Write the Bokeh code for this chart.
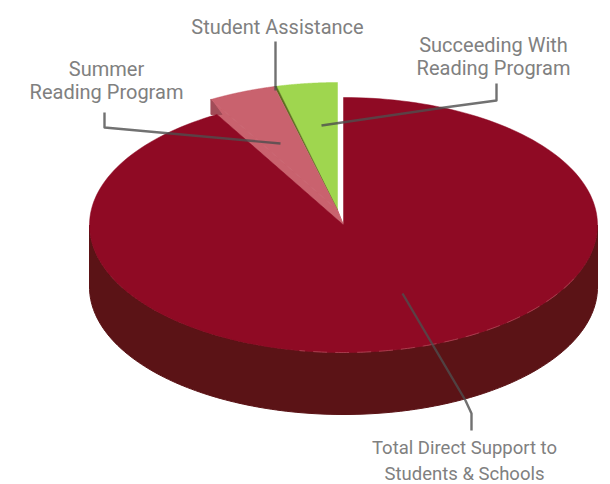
import numpy as np
from bokeh.plotting import figure
from bokeh.models import ColumnDataSource, Range1d
from bokeh.core.properties import value
from bokeh.embed import file_html
from bokeh.resources import INLINE

categories = ["Succeeding With Reading Program", "Student Assistance", "Summer Reading Program", "Total Direct Support to Students & Schools"]
shares = [3.86, 0.15, 4.29, 91.70]
exploded = [True, True, True, False]
colors = ["#9fd64f", "#5d6e1f", "#c9626e", "#8f0a24"]
side_color = "#5b1316"
label_lines = [["Succeeding With", "Reading Program"], ["Student Assistance"], ["Summer", "Reading Program"], ["Total Direct Support to", "Students & Schools"]]
label_pos = [(493, 44), (277, 26), (106, 68), (464, 447)]
label_gap = [23, 0, 23, 26]
label_size = ["20px", "20px", "20px", "18.5px"]
leaders = [
    ([496, 496, 444, 321], [83, 100, 107, 125]),
    ([275, 275], [41, 90]),
    ([104, 104, 280], [112, 127, 143]),
    ([402, 465, 471, 471], [293, 400, 413, 430]),
]

CX, CY, RX, RY = 343, 224.5, 254, 127.5
DEPTH = 62
OFF = (-6, -15)


def rim(a0, a1, n=80):
    t = np.radians(np.linspace(a0, a1, n))
    return CX + RX * np.sin(t), CY - RY * np.cos(t)


p = figure(width=610, height=484, output_backend="svg", toolbar_location=None,
           x_range=Range1d(0, 610), y_range=Range1d(484, 0), min_border=0)
p.axis.visible = False
p.grid.visible = False
p.outline_line_color = None
p.background_fill_color = "white"
p.border_fill_color = "white"

# Side wall of the main disc
sx, sy = rim(90, 270, 160)
p.patch(np.r_[sx, sx[::-1]], np.r_[sy + DEPTH, sy[::-1]], fill_color=side_color, line_color=side_color)

# Wedges, going anticlockwise from twelve o'clock
angles = -np.cumsum([0] + shares) * 3.6
xs, ys, fills = [], [], []
for i in range(len(shares)):
    x, y = rim(angles[i], angles[i + 1], 200)
    ox, oy = OFF if exploded[i] else (0, 0)
    xs.append(np.r_[CX + ox, x + ox, CX + ox])
    ys.append(np.r_[CY + oy, y + oy, CY + oy])
    fills.append(colors[i])

# Edge of the lifted pink wedge that shows between it and the disc
edge_x, edge_y = rim(angles[3], angles[3], 1)
cx0, cy0 = edge_x[0] + OFF[0], edge_y[0] + OFF[1]
p.patch([cx0, CX + OFF[0], CX, edge_x[0]], [cy0, CY + OFF[1], CY, edge_y[0]], fill_color=colors[2], line_color=colors[2])
p.patch([cx0, cx0, cx0 + 11], [cy0, cy0 + 15, cy0 + 15], fill_color="#a24c58", line_color="#a24c58")

src = ColumnDataSource(dict(xs=xs, ys=ys, fill=fills, name=categories))
p.patches("xs", "ys", source=src, fill_color="fill", line_color="fill", line_width=0.5)

# Faint highlight along the front rim
hx, hy = rim(115, 190, 120)
p.line(hx, hy, line_color="#b8505f", line_width=1, line_dash="14 8", line_alpha=0.7)

# Leader lines
for lx, ly in leaders:
    p.line(lx, ly, line_color="#4d4d4d", line_width=2.4, line_alpha=0.8, line_join="round")

# Labels
for lines, (tx, ty), gap, size in zip(label_lines, label_pos, label_gap, label_size):
    for k, t in enumerate(lines):
        p.text([tx], [ty + k * gap], text=[t], text_font=value("Roboto"), text_font_size=size,
               text_color="#808080", text_align="center", text_baseline="middle")

open("out.html", "w").write(file_html(p, INLINE))
